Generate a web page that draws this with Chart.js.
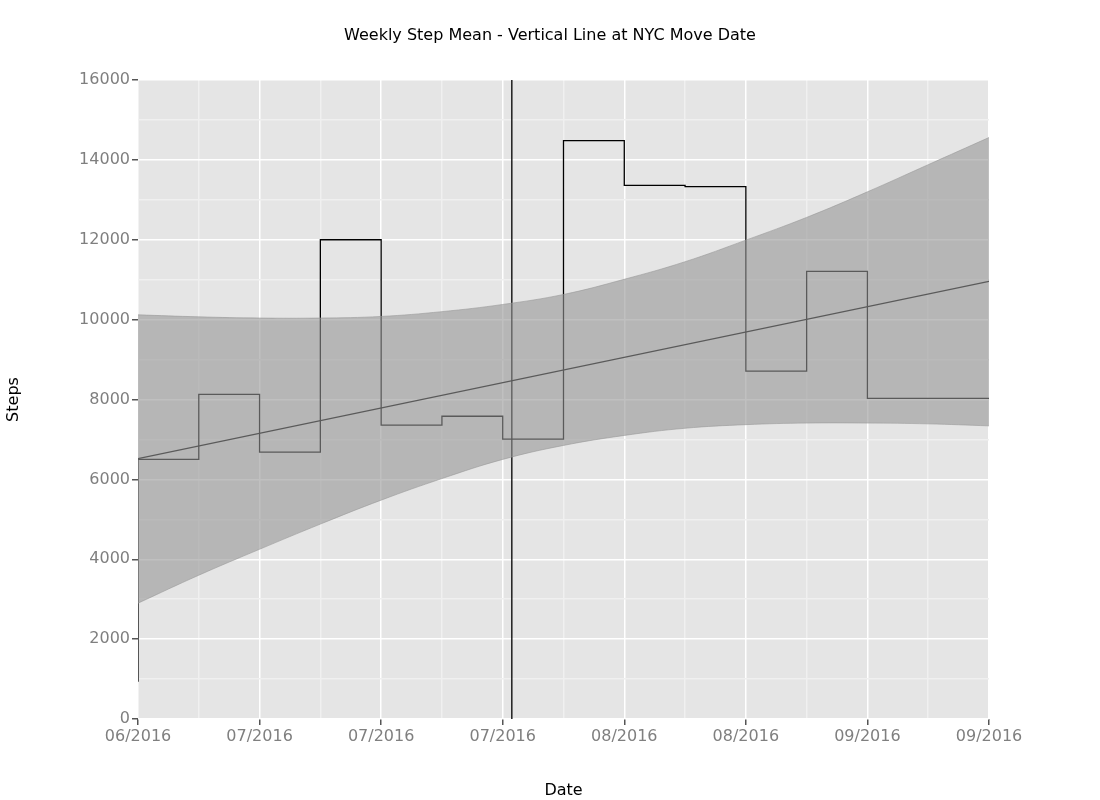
<!DOCTYPE html>
<html>
<head>
<meta charset="utf-8">
<script src="https://cdn.jsdelivr.net/npm/chart.js@4/dist/chart.umd.min.js"></script>
<style>body{margin:0;background:#fff}</style>
</head>
<body>
<canvas id="chart" width="1100" height="800"></canvas>
<script>
// weekly step means (week index 0..13)
const weeks = [0,1,2,3,4,5,6,7,8,9,10,11,12,13,14];
const weeklySteps = [930,6500,8130,6680,12000,7360,7580,7010,14480,13360,13330,8710,11210,8030,8030];
const tickLabels = ['06/2016','07/2016','07/2016','07/2016','08/2016','08/2016','09/2016','09/2016'];
const bandUpper = [10120,10070,10040,10040,10080,10200,10380,10630,11010,11450,11990,12560,13200,13880,14560];
const bandLower = [2900,3600,4250,4880,5480,6020,6500,6850,7100,7280,7370,7410,7410,7390,7340];
const trendEnds = [6520,10960];
const moveWeek = 6.15;

const bgPlugin = {
  id: 'bg',
  beforeDraw: (chart) => {
    const {ctx, chartArea: a} = chart;
    ctx.save();
    ctx.fillStyle = '#e5e5e5';
    ctx.fillRect(a.left, a.top, a.right - a.left, a.bottom - a.top);
    ctx.fillStyle = '#000';
    ctx.font = '16px "DejaVu Sans"';
    ctx.textAlign = 'center';
    ctx.fillText('Weekly Step Mean - Vertical Line at NYC Move Date', 550, 40);
    ctx.restore();
  }
};

const pts = (arr) => arr.map((v, i) => ({x: weeks[i], y: v}));
const gridCol = (c) => c.tick && c.tick.value % 2 === 0 ? '#ffffff' : '#f0f0f0';
const tickCol = (c) => c.tick && c.tick.value % 2 === 0 ? '#555' : 'rgba(0,0,0,0)';

new Chart(document.getElementById('chart').getContext('2d'), {
  type: 'line',
  data: {
    datasets: [
      {data: pts(bandLower), borderColor: '#999', borderWidth: 0.6, pointRadius: 0, fill: false, tension: 0.4},
      {data: pts(bandUpper), borderColor: '#999', borderWidth: 0.6, pointRadius: 0, fill: '-1', backgroundColor: 'rgba(150,150,150,0.6)', tension: 0.4},
      {data: [{x: 0, y: trendEnds[0]}, {x: 14, y: trendEnds[1]}], borderColor: '#000', borderWidth: 1.3, pointRadius: 0, fill: false},
      {data: pts(weeklySteps), borderColor: '#000', borderWidth: 1.3, pointRadius: 0, fill: false, stepped: 'after'},
      {data: [{x: moveWeek, y: 0}, {x: moveWeek, y: 16000}], borderColor: '#000', borderWidth: 1.3, pointRadius: 0, fill: false}
    ]
  },
  options: {
    responsive: false,
    animation: false,
    layout: {padding: {top: 80, right: 111, left: 0, bottom: 0}},
    plugins: {legend: {display: false}, tooltip: {enabled: false}},
    scales: {
      x: {
        type: 'linear', min: 0, max: 14,
        afterFit: (s) => { s.height = 81; },
        border: {display: false},
        grid: {color: gridCol, lineWidth: 1.5, tickColor: tickCol, tickLength: 6},
        ticks: {stepSize: 1, autoSkip: false, maxRotation: 0, color: '#7f7f7f', font: {size: 16, family: 'DejaVu Sans'}, padding: 2,
          callback: (v) => v % 2 === 0 ? tickLabels[v / 2] : ''},
        title: {display: true, text: 'Date', color: '#000', font: {size: 16, family: 'DejaVu Sans'}, padding: 0}
      },
      y: {
        min: 0, max: 16000,
        afterFit: (s) => { s.width = 138; },
        border: {display: false},
        grid: {color: (c) => c.tick && c.tick.value % 2000 === 0 ? '#ffffff' : '#f0f0f0', lineWidth: 1.5,
          tickColor: (c) => c.tick && c.tick.value % 2000 === 0 ? '#555' : 'rgba(0,0,0,0)', tickLength: 6},
        ticks: {stepSize: 1000, autoSkip: false, color: '#7f7f7f', font: {size: 16, family: 'DejaVu Sans'}, padding: 2,
          callback: (v) => v % 2000 === 0 ? v : ''},
        title: {display: true, text: 'Steps', color: '#000', font: {size: 16, family: 'DejaVu Sans'}, padding: {bottom: 22}}
      }
    }
  },
  plugins: [bgPlugin]
});
</script>
</body>
</html>
